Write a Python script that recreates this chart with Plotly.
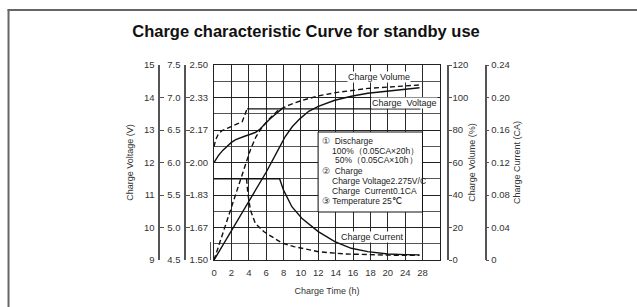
import numpy as np
import plotly.graph_objects as go

# ---------------- data ----------------
TICK_HOURS = [0, 2, 4, 6, 8, 10, 12, 14, 16, 18, 20, 24, 28]
TICK_LABELS = [str(h) for h in TICK_HOURS]

CELL_V_LABELS = ["1.50", "1.67", "1.83", "2.00", "2.17", "2.33", "2.50"]
BATT12_TICKS = [9, 10, 11, 12, 13, 14, 15]
BATT6_TICKS = [4.5, 5.0, 5.5, 6.0, 6.5, 7.0, 7.5]
VOLUME_TICKS = [0, 20, 40, 60, 80, 100, 120]
CURRENT_TICKS = [0, 0.04, 0.08, 0.12, 0.16, 0.20, 0.24]
CURRENT_LABELS = ["0", "0.04", "0.08", "0.12", "0.16", "0.20", "0.24"]

# charge voltage (V/cell)
VOLT_100_T = [0, 0.5, 1.0, 1.5, 2.0, 2.5, 3.0, 3.6, 4.2, 4.8, 5.3, 5.8, 6.4, 7.0, 7.5, 7.8]
VOLT_100_V = [2.000, 2.035, 2.062, 2.085, 2.103, 2.117, 2.127, 2.136, 2.145, 2.155,
              2.172, 2.196, 2.222, 2.245, 2.263, 2.275]
VOLT_50_T = [0, 0.18, 0.49, 0.87, 1.52, 2.47, 3.24, 3.55, 3.8]
VOLT_50_V = [2.081, 2.115, 2.146, 2.162, 2.175, 2.192, 2.209, 2.244, 2.275]
CHARGE_VOLTAGE = 2.275
CHARGE_VOLTAGE_T = [3.8, 27.5]

# charge volume (%)
VOLUME_100_T = [0, 2, 4, 6, 7.5, 8.2, 9.0, 9.9, 10.9, 12, 13.9, 15.8, 17.7, 20, 24, 27.3]
VOLUME_100_P = [0, 18, 36, 54, 69, 76, 82, 87, 91.5, 94.5, 98.3, 100.8, 102.6, 104, 105.2, 106]
VOLUME_50_T = [0, 1, 2, 3, 3.6, 4.2, 4.8, 5.5, 6.3, 7.4, 8.7, 10, 12, 14, 17.7, 22, 27.3]
VOLUME_50_P = [0, 16.5, 33, 49.5, 59, 68, 75.5, 81.5, 86.5, 92.3, 95.5, 98, 101, 103, 105.6, 106.8, 107.7]

# charge current (CA)
CURRENT_100_T = [0, 7.55, 8.0, 8.96, 10.1, 12, 13.9, 15.8, 17.7, 20, 24, 27.3]
CURRENT_100_C = [0.1, 0.1, 0.086, 0.0656, 0.0513, 0.0349, 0.0226, 0.0144, 0.0103, 0.0074, 0.0066, 0.0063]
CURRENT_50_T = [3.75, 3.89, 4.19, 4.76, 5.72, 7.24, 7.8, 9.2, 12, 15, 17.7, 20, 24, 27.3]
CURRENT_50_C = [0.1, 0.082, 0.0615, 0.045, 0.035, 0.0246, 0.021, 0.0165, 0.0102, 0.0075, 0.0064, 0.006, 0.0058, 0.0057]

# ---------------- helpers ----------------
W, H = 637, 307
ML, MR, MT, MB = 10, 10, 65, 47
PW = W - ML - MR
PH = H - MT - MB


def fx(px):
    return (px - ML) / PW


def fy(py):
    return (H - MB - py) / PH


def pos(hours):
    return np.interp(hours, TICK_HOURS, np.arange(len(TICK_HOURS)))


FONT = "Liberation Sans, Arial, sans-serif"
INK = "#111111"
AX = "#555555"
solid = dict(color=INK, width=1.4)
dashed = dict(color=INK, width=1.4, dash="5px,3px")

fig = go.Figure()
fig.add_trace(go.Scatter(x=pos(VOLT_100_T), y=VOLT_100_V, mode="lines", line=solid,
                         name="Charge voltage 100%"))
fig.add_trace(go.Scatter(x=pos(VOLT_50_T), y=VOLT_50_V, mode="lines", line=dashed,
                         name="Charge voltage 50%"))
fig.add_trace(go.Scatter(x=pos(CHARGE_VOLTAGE_T), y=[CHARGE_VOLTAGE] * 2, mode="lines",
                         line=solid, name="Charge voltage"))
fig.add_trace(go.Scatter(x=pos(VOLUME_100_T), y=VOLUME_100_P, mode="lines", line=solid,
                         yaxis="y4", name="Charge volume 100%"))
fig.add_trace(go.Scatter(x=pos(VOLUME_50_T), y=VOLUME_50_P, mode="lines", line=dashed,
                         yaxis="y4", name="Charge volume 50%"))
fig.add_trace(go.Scatter(x=pos(CURRENT_100_T), y=CURRENT_100_C, mode="lines", line=solid,
                         yaxis="y5", name="Charge current 100%"))
fig.add_trace(go.Scatter(x=pos(CURRENT_50_T), y=CURRENT_50_C, mode="lines", line=dashed,
                         yaxis="y5", name="Charge current 50%"))
# invisible carriers so the battery-voltage scales are drawn
fig.add_trace(go.Scatter(x=[0, 0], y=[BATT12_TICKS[0], BATT12_TICKS[-1]], mode="markers",
                         marker=dict(opacity=0), yaxis="y2", hoverinfo="skip", name="12V scale"))
fig.add_trace(go.Scatter(x=[0, 0], y=[BATT6_TICKS[0], BATT6_TICKS[-1]], mode="markers",
                         marker=dict(opacity=0), yaxis="y3", hoverinfo="skip", name="6V scale"))

cell_major = [1.5 + k / 6 for k in range(7)]
cell_minor = [1.5 + k / 12 for k in range(1, 12, 2)]

tickfont = dict(size=9.5, color="#333")
titlefont = dict(size=9, color="#333")

fig.update_layout(
    width=W, height=H,
    margin=dict(l=ML, r=MR, t=MT, b=MB),
    paper_bgcolor="white", plot_bgcolor="white",
    font=dict(family=FONT, size=9, color="#333"),
    showlegend=False,
    title=dict(text="<b>Charge characteristic Curve for standby use</b>",
               x=306 / W, xanchor="center", xref="container",
               y=1 - 31 / H, yanchor="middle", yref="container",
               font=dict(size=16.5, color="#111", family=FONT)),
    xaxis=dict(domain=[fx(212), fx(439)], range=[0, 13],
               tickvals=list(range(14)), ticktext=TICK_LABELS + [""],
               showgrid=True, gridcolor="#2a2a2a", gridwidth=1,
               showline=True, mirror=True, linecolor="#222", linewidth=1,
               ticks="", zeroline=False, tickfont=tickfont, ticklabelstandoff=4,
               title=dict(text="Charge Time (h)", font=titlefont, standoff=10)),
    yaxis=dict(range=[1.5, 2.5], tickvals=cell_major, ticktext=CELL_V_LABELS,
               showgrid=True, gridcolor="#222", gridwidth=1,
               minor=dict(tickvals=cell_minor, showgrid=True, gridcolor="#555", gridwidth=1, ticks=""),
               showline=True, mirror=True, linecolor="#222", linewidth=1,
               ticks="", zeroline=False, tickfont=tickfont, ticklabelstandoff=3),
    yaxis2=dict(overlaying="y", anchor="free", position=fx(157), side="left",
                range=[9, 15], tickvals=BATT12_TICKS, showgrid=False, zeroline=False,
                showline=True, linecolor=AX, linewidth=1.5,
                ticks="inside", ticklen=4, tickcolor=AX, tickwidth=1.2,
                tickfont=tickfont, ticklabelstandoff=2,
                title=dict(text="Charge Voltage (V)", font=titlefont, standoff=8)),
    yaxis3=dict(overlaying="y", anchor="free", position=fx(183), side="left",
                range=[4.5, 7.5], tickvals=BATT6_TICKS, tickformat=".1f",
                showgrid=False, zeroline=False,
                showline=True, linecolor=AX, linewidth=1.5,
                ticks="inside", ticklen=4, tickcolor=AX, tickwidth=1.2,
                tickfont=tickfont, ticklabelstandoff=2),
    yaxis4=dict(overlaying="y", anchor="free", position=fx(447), side="right",
                range=[0, 120], tickvals=VOLUME_TICKS, showgrid=False, zeroline=False,
                showline=True, linecolor=AX, linewidth=1.5,
                ticks="outside", ticklen=3, tickcolor=AX, tickwidth=1.2,
                tickfont=tickfont, ticklabelstandoff=-1,
                title=dict(text="Charge Volume (%)", font=titlefont, standoff=0)),
    yaxis5=dict(overlaying="y", anchor="free", position=fx(485), side="right",
                range=[0, 0.24], tickvals=CURRENT_TICKS, ticktext=CURRENT_LABELS,
                showgrid=False, zeroline=False,
                showline=True, linecolor=AX, linewidth=1.5,
                ticks="outside", ticklen=3, tickcolor=AX, tickwidth=1.2,
                tickfont=tickfont,
                title=dict(text="Charge Current (CA)", font=titlefont, standoff=4)),
)

frame = dict(color="#666", width=2)
shapes = [
    # outer frame: left and top edges (right/bottom run off the image)
    dict(type="line", xref="paper", yref="paper",
         x0=fx(5.5), x1=fx(5.5), y0=fy(H + 5), y1=fy(9.5), line=frame, layer="above"),
    dict(type="line", xref="paper", yref="paper",
         x0=fx(4.5), x1=fx(W + 5), y0=fy(10), y1=fy(10), line=frame, layer="above"),
    # small stub left of grid bottom
    dict(type="line", xref="paper", yref="paper",
         x0=fx(208.5), x1=fx(208.5), y0=fy(242), y1=fy(260),
         line=dict(color=AX, width=1)),
    # note box
    dict(type="rect", xref="paper", yref="paper",
         x0=fx(316.6), x1=fx(421.5), y0=fy(212), y1=fy(132),
         line=dict(color="#111", width=1), fillcolor="white", layer="above"),
]
fig.update_layout(shapes=shapes)

ann = []


def label(text, px, py, size=9, bg=None, xanchor="center"):
    d = dict(text=text, xref="paper", yref="paper", x=fx(px), y=fy(py),
             xanchor=xanchor, yanchor="middle", showarrow=False,
             font=dict(size=size, color="#222", family=FONT), borderpad=0)
    if bg:
        d["bgcolor"] = bg
    ann.append(d)


label("Charge Volume", 378, 77, bg="white")
label("Charge  Voltage", 403, 102.5, bg="white")
label("Charge Current", 371, 237, bg="white")

NOTE_LINES = [
    ("①  Discharge", 320, 141),
    ("100%（0.05CA×20h）", 330, 150.5),
    ("50%（0.05CA×10h）", 333, 160),
    ("②  Charge", 320, 170.5),
    ("Charge Voltage2.275V/C", 330, 180.5),
    ("Charge  Current0.1CA", 330, 190.5),
    ("③ Temperature 25℃", 320, 201),
]
for t, px, py in NOTE_LINES:
    label(t, px, py, size=8.5, xanchor="left")

fig.update_layout(annotations=ann)
fig.write_html("out.html", config={"displayModeBar": False},
               post_script="document.body.style.margin='0';")
